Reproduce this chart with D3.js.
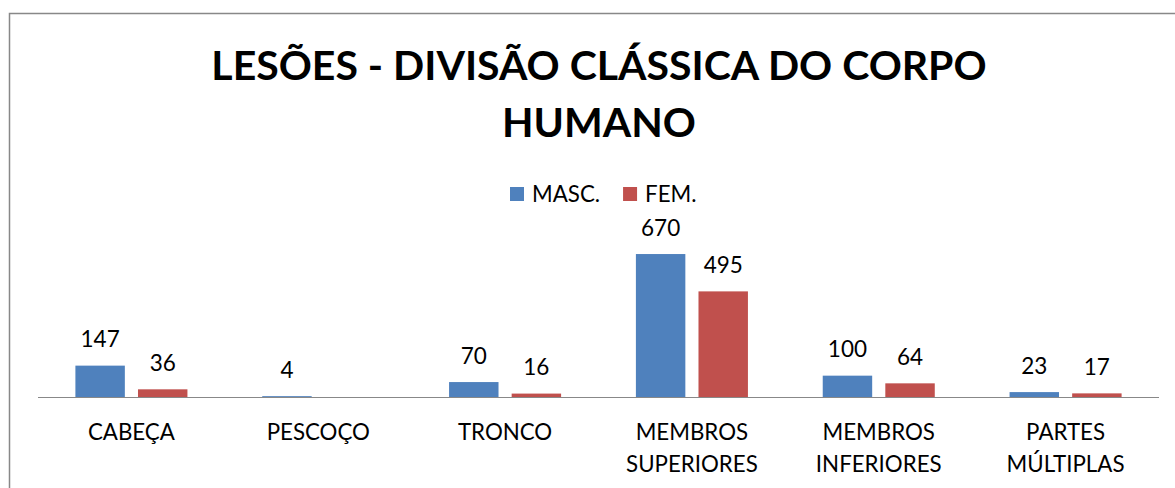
<!DOCTYPE html>
<html>
<head>
<meta charset="utf-8">
<script src="https://cdn.jsdelivr.net/npm/d3@7"></script>
<style>
  body { margin: 0; background: #fff; }
  text { font-family: Lato, "Open Sans", sans-serif; fill: #000; }
</style>
</head>
<body>
<div id="chart"></div>
<script>
// chart data
var categories = ["CABEÇA", "PESCOÇO", "TRONCO", "MEMBROS SUPERIORES", "MEMBROS INFERIORES", "PARTES MÚLTIPLAS"];
var categoryLines = [["CABEÇA"], ["PESCOÇO"], ["TRONCO"], ["MEMBROS", "SUPERIORES"], ["MEMBROS", "INFERIORES"], ["PARTES", "MÚLTIPLAS"]];
var series = ["MASC.", "FEM."];
var masc = [147, 4, 70, 670, 100, 23];
var fem = [36, null, 16, 495, 64, 17];
var colors = ["#4F81BD", "#C0504D"];
var titleLines = ["LESÕES - DIVISÃO CLÁSSICA DO CORPO", "HUMANO"];

var W = 1175, H = 488;
var axisY = 397;

var svg = d3.select("#chart").append("svg")
    .attr("width", W)
    .attr("height", H);

// outer border of chart area (right/bottom fall outside the crop)
svg.append("rect")
    .attr("x", 9.5).attr("y", 13.5)
    .attr("width", W + 20).attr("height", H + 20)
    .attr("fill", "none")
    .attr("stroke", "#888")
    .attr("stroke-width", 1.5);

var x0 = d3.scaleBand().domain(categories).range([38, 1159]);
var x1 = d3.scaleBand().domain(series)
    .range([37.4, x0.bandwidth() - 37.4])
    .paddingInner(0.21);
var y = d3.scaleLinear().domain([0, 800]).range([axisY, axisY - 170.7]);

// title
svg.append("g").selectAll("text")
    .data(titleLines)
    .enter().append("text")
    .attr("x", 599)
    .attr("y", function(d, i) { return 80 + i * 57; })
    .attr("text-anchor", "middle")
    .style("font-size", "41px")
    .style("font-weight", "bold")
    .text(function(d) { return d; });

// legend
var legend = svg.append("g").attr("transform", "translate(510,187)");
var lx = 0;
series.forEach(function(s, i) {
    var g = legend.append("g").attr("transform", "translate(" + lx + ",0)");
    g.append("rect").attr("width", 14).attr("height", 14).attr("fill", colors[i]);
    var t = g.append("text").attr("x", 22).attr("y", 15)
        .style("font-size", "22.3px").text(s);
    lx += 22 + t.node().getComputedTextLength() + 23;
});

// bars
var rows = categories.map(function(c, i) {
    return { cat: c, values: [masc[i], fem[i]] };
});

var groups = svg.selectAll(".cat")
    .data(rows)
    .enter().append("g")
    .attr("class", "cat")
    .attr("transform", function(d) { return "translate(" + x0(d.cat) + ",0)"; });

var cells = groups.selectAll(".bar")
    .data(function(d) {
        return series.map(function(s, i) { return { s: s, i: i, v: d.values[i] }; })
            .filter(function(e) { return e.v != null; });
    })
    .enter();

cells.append("rect")
    .attr("x", function(d) { return x1(d.s); })
    .attr("width", x1.bandwidth())
    .attr("y", function(d) { return y(d.v); })
    .attr("height", function(d) { return axisY - y(d.v); })
    .attr("fill", function(d) { return colors[d.i]; });

cells.append("text")
    .attr("x", function(d) { return x1(d.s) + x1.bandwidth() / 2; })
    .attr("y", function(d) { return y(d.v) - 18.5; })
    .attr("text-anchor", "middle")
    .style("font-size", "22.5px")
    .text(function(d) { return d.v; });

// category axis line
svg.append("line")
    .attr("x1", x0.range()[0]).attr("x2", x0.range()[1])
    .attr("y1", axisY + 0.5).attr("y2", axisY + 0.5)
    .attr("stroke", "#888").attr("stroke-width", 1.2);

// category labels
groups.each(function(d, i) {
    d3.select(this).selectAll(".lbl")
        .data(categoryLines[i])
        .enter().append("text")
        .attr("x", x0.bandwidth() / 2)
        .attr("y", function(l, j) { return 440 + j * 31.5; })
        .attr("text-anchor", "middle")
        .style("font-size", "22.3px")
        .text(function(l) { return l; });
});
</script>
</body>
</html>
